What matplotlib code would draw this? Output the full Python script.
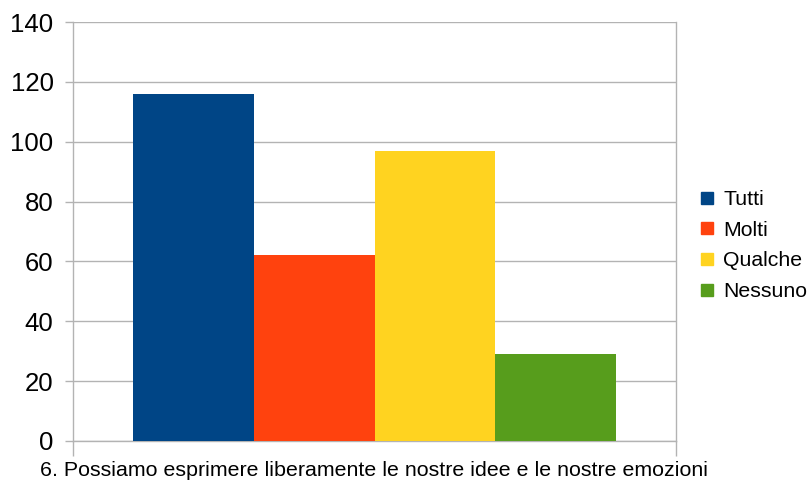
import matplotlib
matplotlib.use("Agg")
import matplotlib.pyplot as plt
from matplotlib.lines import Line2D

series = ["Tutti", "Molti", "Qualche", "Nessuno"]
values = [116, 62, 97, 29]
colors = ["#004586", "#ff420e", "#ffd320", "#579d1c"]
category = "6. Possiamo esprimere liberamente le nostre idee e le nostre emozioni"
yticks = [0, 20, 40, 60, 80, 100, 120, 140]

plt.rcParams['font.family'] = ['Liberation Sans', 'DejaVu Sans']

fig = plt.figure(figsize=(8.09, 4.82), dpi=100)
ax = fig.add_axes([73 / 809, 41 / 482, 603 / 809, 419 / 482])

grid_c = "#b3b3b3"
w = 0.8 / len(series)
for i, (name, v, c) in enumerate(zip(series, values, colors)):
    ax.bar(-0.4 + w * (i + 0.5), v, width=w, color=c, label=name, zorder=3)

ax.set_xlim(-0.5, 0.5)
ax.set_ylim(0, 140)
ax.set_yticks(yticks)
ax.set_yticklabels([str(t) for t in yticks], fontsize=18.5)
ax.yaxis.grid(True, color=grid_c, linewidth=1, zorder=0)
ax.tick_params(axis='y', length=6, color=grid_c, width=1, pad=8)

ax.set_xticks([-0.5, 0.5])
ax.set_xticklabels(["", ""])
ax.tick_params(axis='x', length=11, color=grid_c, width=1)
ax.set_xlabel(category, fontsize=15.4, labelpad=0)

for s in ax.spines.values():
    s.set_color(grid_c)
    s.set_linewidth(1)
ax.spines['top'].set_visible(False)

handles = [Line2D([], [], marker='s', linestyle='none', markersize=9,
                  markerfacecolor=c, markeredgecolor=c) for c in colors]
fig.legend(handles, series, loc='center left', bbox_to_anchor=(688 / 809, 1 - 245.5 / 482),
           frameon=False, fontsize=15.3, handlelength=0.8, handletextpad=0.35,
           labelspacing=0.55, borderpad=0)

fig.savefig("out.png", dpi=100)
